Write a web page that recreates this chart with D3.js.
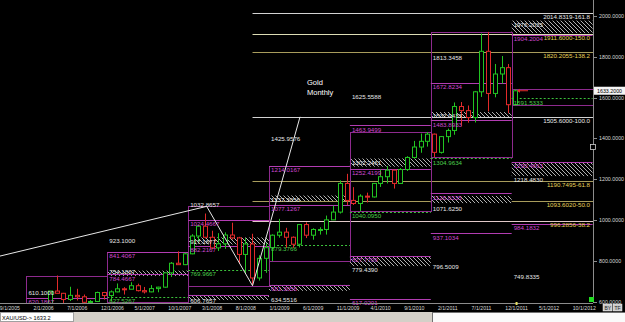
<!DOCTYPE html>
<html><head><meta charset="utf-8">
<script src="https://cdn.jsdelivr.net/npm/d3@7"></script>
<style>
html,body{margin:0;padding:0;background:#000;overflow:hidden}
svg{display:block}
text{font-family:"Liberation Sans",Arial,sans-serif}
</style></head><body>
<svg id="c" width="625" height="322"></svg>
<script>
// ---- monthly XAU/USD candles, Sep 2005 .. Jan 2012 (month index 0 = Sep 2005)
const candleOpen = [433,469,470,495, 517,569,556,583,654,643,613,633,626,599,603,647,
  632,650,665,663,680,656,650,666,673,743,790,783, 836,923,971,917,865,885,928,914,833,884,718,814,
  866,927,942,917,883,979,927,955,955,1002,1040,1180, 1097,1082,1118,1114,1180,1213,1245,1180,1248,1307,1358,1386,
  1421,1332,1409,1439,1556,1536,1502,1628,1826,1620,1715,1746, 1565];
const candleHigh = [473,479,497,541, 571,575,586,654,730,645,675,665,637,610,651,650,
  657,691,673,697,690,674,683,675,745,796,848,841, 932,975,1033,949,937,941,988,919,913,934,829,888,
  931,1007,963,921,981,990,961,966,1023,1071,1195,1227, 1162,1127,1135,1180,1249,1265,1245,1255,1313,1388,1424,1431,
  1424,1412,1448,1576,1578,1561,1632,1913,1921,1764,1803,1764, 1640];
const candleLow = [431,460,456,490, 515,537,535,582,643,543,605,608,573,560,602,612,
  603,648,637,663,652,642,648,648,670,723,782,781, 834,895,911,858,850,860,906,786,740,681,705,743,
  800,915,865,865,867,913,905,930,930,1001,1033,1075, 1075,1045,1087,1111,1163,1180,1155,1180,1241,1302,1330,1360,
  1309,1326,1380,1418,1462,1477,1478,1603,1532,1601,1668,1523, 1562];
const candleClose = [469,470,495,513, 569,556,582,654,643,613,633,626,599,603,647,632,
  650,665,663,680,656,650,666,673,743,790,783,836, 923,971,917,865,885,928,914,833,884,718,814,866,
  927,942,917,883,979,927,955,955,1002,1040,1180,1097, 1082,1118,1114,1180,1213,1245,1180,1248,1307,1358,1386,1421,
  1332,1409,1439,1556,1536,1502,1628,1826,1620,1715,1746,1565, 1633];

// ---- axes
const dateTickIdx = [0,5,10,15,20,25,30,35,40,45,50,55,60,65,70,75,80,85];
const dateTickText = ["9/1/2005","2/1/2006","7/1/2006","12/1/2006","5/1/2007","10/1/2007","3/1/2008","8/1/2008",
  "1/1/2009","6/1/2009","11/1/2009","4/1/2010","9/1/2010","2/1/2011","7/1/2011","12/1/2011","5/1/2012","10/1/2012"];
const priceTicks = [2000,1800,1600,1400,1200,1000,800,600];
const lastPrice = 1633.2;

// ---- Fibonacci expansion levels
const fibValue = [2014.8319,1911.6,1820.2055,1505.6,1190.7495,1093.602,996.2856];
const fibText = ["2014.8319-161.8","1911.6000-150.0","1820.2055-138.2","1505.6000-100.0","1190.7495-61.8","1093.6020-50.0","996.2856-38.2"];
const fibLineTone = ["w","y","o","w","o","o","p"];
const fibLabelTone = ["w","y","y","w","y","y","y"];

// ---- zigzag trend line (month index, price)
const trendIdx = [-0.42,30.25,37.05,44.1];
const trendPrice = [825,1068,680,1505.6];

// ---- yearly range boxes (top / bottom)
const boxYear = [2006,2007,2008,2009,2010,2011,2012];
const boxHigh = [730,845,1070,1265,1431,1921,1640];
const boxLow  = [540,603,681,800,1045,1309,1562];

// ---- yearly pivot levels: box index, price position, label, kind (w = label only, m = magenta line, g = green dashed)
const lvlBox = [0,0, 1,1,1,1,1, 2,2,2,2,2,2,2, 3,3,3,3,3,3,3, 4,4,4,4,4,4,4,4, 5,5,5,5,5,5,5,5,5, 6,6,6,6,6,6,6];
const lvlValue = [667,620.2, 921,845,767,735,625,
  1095,1001,916,874.4,757,635,627,
  1419,1265,1121,1074.8,879.3,683.8,632.4,
  1623,1463.95,1302,1252,1040,827,779,617,
  1812,1671,1531,1488,1303,1131,1077,936,794,
  1976.5,1905,1596,1287,1219,984,745];
const lvlText = ["610.1000","620.1867","923.1000","841.4067","754.1867","784.4667","627.5267",
  "1032.8657","1024.4667","917.1677","882.2167","769.9667","","606.7657",
  "1425.9576","1214.0167","1137.3056","1077.1267","879.3766","681.3056","634.5516",
  "1625.5588","1463.9499","1302.2461","1252.4199","1040.0950","827.7709","779.4390","617.0201",
  "1813.3458","1672.8234","1532.9433","1483.8933","1304.9634","1126.0335","1071.6250","937.1034","796.5009",
  "1976.2035","1904.2004","1591.5333","1290.4663","1218.4830","984.1832","749.8335"];
const lvlKind = ["w","m","w","m","w","m","g", "w","m","w","m","g","m","w", "w","m","w","m","g","m","w",
  "w","m","w","m","g","m","w","m", "w","m","w","m","g","m","w","m","w", "w","m","g","m","w","m","w"];

// ---- hatched zones
const hatchBox = [1,2,2,3,3,4,4,5,5,6,6];
const hatchTop = [754,916,635,1121,684,1302,825,1529,1119,1976,1285];
const hatchBot = [728,882,610,1094,655,1262,776,1505,1084,1915,1216];

// ================= drawing =================
const svg = d3.select("#c");
const PR = 593, PB = 303;
const x = d3.scaleLinear().domain([0,87]).range([2.8,589.2]);
const y = d3.scaleLinear().domain([600,2000]).range([302.1,15.7]);
const boxX0 = k => x(3.5 + 12*k), boxX1 = k => Math.min(x(15.5 + 12*k), PR);

const C = {bg:"#000", box:"#8e2a8e", mline:"#b23cb2", mtext:"#d048d0", gline:"#3cc23c", gtext:"#4ccf4c",
  wtext:"#e6e6e6", up:"#22c422", dn:"#e22a2a",
  fibw:"#d2d2d2", fiby:"#dcdcb4", fibo:"#a89c5c", fibp:"#e0c8c8", fibLabW:"#e8e8e8", fibLabY:"#e6d25a", axis:"#8c8c8c"};

svg.append("rect").attr("width",625).attr("height",322).attr("fill",C.bg);
const defs = svg.append("defs");
defs.append("clipPath").attr("id","plot").append("rect").attr("x",0).attr("y",0).attr("width",PR).attr("height",PB);
const pat = defs.append("pattern").attr("id","hatch").attr("patternUnits","userSpaceOnUse").attr("width",4).attr("height",4);
pat.append("rect").attr("width",4).attr("height",4).attr("fill","#000");
pat.append("path").attr("d","M-1,-1L5,5M-1,3L1,5M3,-1L5,1").attr("stroke","#c4c4c4").attr("stroke-width",0.9);

const g = svg.append("g").attr("clip-path","url(#plot)");

// fib lines
const fibX0 = x(37.05);
const fibTone = t => ({w:C.fibw,y:C.fiby,o:C.fibo,p:C.fibp})[t];
g.selectAll(".fib").data(fibValue).join("line")
  .attr("x1",fibX0).attr("x2",PR).attr("y1",d=>Math.round(y(d))+0.5).attr("y2",d=>Math.round(y(d))+0.5)
  .attr("stroke",(d,i)=>fibTone(fibLineTone[i])).attr("stroke-width",1);

// hatch zones
g.selectAll(".hz").data(hatchBox).join("rect")
  .attr("x",(k)=>boxX0(k)).attr("width",k=>boxX1(k)-boxX0(k))
  .attr("y",(k,i)=>y(hatchTop[i])).attr("height",(k,i)=>y(hatchBot[i])-y(hatchTop[i]))
  .attr("fill","url(#hatch)");

// year boxes
g.selectAll(".yb").data(boxYear).join("rect")
  .attr("x",(d,k)=>Math.round(boxX0(k))+0.5).attr("width",(d,k)=>Math.round(boxX1(k)-boxX0(k)))
  .attr("y",(d,k)=>Math.round(y(boxHigh[k]))+0.5).attr("height",(d,k)=>Math.round(y(boxLow[k])-y(boxHigh[k])))
  .attr("fill","none").attr("stroke",C.box).attr("stroke-width",1);

// level lines
const lvlIdx = d3.range(lvlValue.length);
g.selectAll(".lv").data(lvlIdx.filter(i=>lvlKind[i]!=="w")).join("line")
  .attr("x1",i=>boxX0(lvlBox[i])).attr("x2",i=>boxX1(lvlBox[i]))
  .attr("y1",i=>Math.round(y(lvlValue[i]))+0.5).attr("y2",i=>Math.round(y(lvlValue[i]))+0.5)
  .attr("stroke",i=>lvlKind[i]==="g"?C.gline:C.mline).attr("stroke-width",1)
  .attr("stroke-dasharray",i=>lvlKind[i]==="g"?"2,2":null);

// candles
const cIdx = d3.range(candleOpen.length);
const cg = g.append("g");
cg.selectAll(".wk").data(cIdx).join("line")
  .attr("x1",i=>Math.round(x(i))+0.5).attr("x2",i=>Math.round(x(i))+0.5)
  .attr("y1",i=>y(candleHigh[i])).attr("y2",i=>y(candleLow[i]))
  .attr("stroke",i=>candleClose[i]>=candleOpen[i]?C.up:C.dn);
cg.selectAll(".bd").data(cIdx).join("rect")
  .attr("x",i=>Math.round(x(i))-1.5).attr("width",4)
  .attr("y",i=>y(Math.max(candleOpen[i],candleClose[i])))
  .attr("height",i=>Math.max(1,Math.abs(y(candleOpen[i])-y(candleClose[i]))))
  .attr("fill","#000").attr("stroke",i=>candleClose[i]>=candleOpen[i]?C.up:C.dn);

// trend zigzag
g.append("path").datum(d3.range(trendIdx.length))
  .attr("d",d3.line().x(i=>x(trendIdx[i])).y(i=>y(trendPrice[i])))
  .attr("fill","none").attr("stroke","#e8e8e8").attr("stroke-width",1);

// level labels
svg.selectAll(".lt").data(lvlIdx.filter(i=>lvlText[i])).join("text")
  .attr("x",i=>boxX0(lvlBox[i])+2).attr("y",i=>y(lvlValue[i])+6.3)
  .attr("font-size",6.2).attr("fill",i=>({w:C.wtext,m:C.mtext,g:C.gtext})[lvlKind[i]])
  .text(i=>lvlText[i]);

// fib labels
svg.selectAll(".ft").data(fibValue).join("text")
  .attr("x",590).attr("y",d=>y(d)+6).attr("text-anchor","end")
  .attr("font-size",6.2).attr("fill",(d,i)=>fibLabelTone[i]==="w"?C.fibLabW:C.fibLabY)
  .text((d,i)=>fibText[i]);

// title
svg.append("text").attr("x",307).attr("y",85).attr("font-size",7.5).attr("fill","#ffffff").text("Gold");
svg.append("text").attr("x",307).attr("y",94.5).attr("font-size",7.5).attr("fill","#ffffff").text("Monthly");

// last price arrow
const ly = y(lastPrice);
svg.append("line").attr("x1",518).attr("x2",528).attr("y1",ly).attr("y2",ly).attr("stroke",C.dn);
svg.append("path").attr("d",`M517,${ly}l3,-2v4z`).attr("fill",C.dn);

// frame
svg.append("line").attr("x1",PR+0.5).attr("x2",PR+0.5).attr("y1",0).attr("y2",PB).attr("stroke",C.axis);
svg.append("line").attr("x1",0).attr("x2",PR).attr("y1",PB+0.5).attr("y2",PB+0.5).attr("stroke",C.axis);
svg.append("rect").attr("x",590.5).attr("y",144.5).attr("width",5).attr("height",5).attr("fill","#000").attr("stroke","#d0d0d0").attr("stroke-width",0.8);

// right axis
const ax = svg.append("g");
ax.selectAll("line").data(priceTicks).join("line")
  .attr("x1",PR).attr("x2",PR+4).attr("y1",d=>Math.round(y(d))+0.5).attr("y2",d=>Math.round(y(d))+0.5).attr("stroke",C.axis);
ax.selectAll("text").data(priceTicks).join("text")
  .attr("x",599).attr("y",d=>y(d)+2).attr("font-size",5.3).attr("fill","#d8d8d8")
  .text(d=>d3.format(".4f")(d));
svg.append("rect").attr("x",594).attr("y",ly-4).attr("width",31).attr("height",8).attr("fill","#f4f4f4");
svg.append("text").attr("x",597).attr("y",ly+2).attr("font-size",5.3).attr("fill","#000").text(d3.format(".4f")(lastPrice));

// date axis
svg.selectAll(".dt").data(dateTickIdx).join("text")
  .attr("x",i=>x(i)-3).attr("y",310.4).attr("font-size",5.2).attr("fill","#d8d8d8")
  .text((d,j)=>dateTickText[j]);
svg.append("rect").attr("x",x(76)+0.5).attr("y",PB-1).attr("width",2).attr("height",3).attr("fill","#e8e060");
svg.append("rect").attr("x",589).attr("y",297).attr("width",5).attr("height",5).attr("fill","#22dd22");
[["BY",603],["TF",613]].forEach(([t,bx])=>{
  svg.append("rect").attr("x",bx).attr("y",304).attr("width",9).attr("height",7).attr("fill","#c8c8c8").attr("stroke","#f0f0f0").attr("stroke-width",0.5);
  svg.append("text").attr("x",bx+1.5).attr("y",309.8).attr("font-size",5).attr("fill","#222").text(t);
});

// status bar
svg.append("rect").attr("x",0).attr("y",312).attr("width",625).attr("height",10).attr("fill","#d4d0c8");
svg.append("rect").attr("x",0.5).attr("y",312.5).attr("width",73).attr("height",9).attr("fill","#fff").attr("stroke","#a0a0a0");
svg.append("text").attr("x",2).attr("y",319.5).attr("font-size",5.6).attr("fill","#000").text("XAU/USD->  " + lastPrice);
svg.append("rect").attr("x",432.5).attr("y",312.5).attr("width",193).attr("height",10).attr("fill","#fafafa").attr("stroke","#707070");
</script>
</body></html>
